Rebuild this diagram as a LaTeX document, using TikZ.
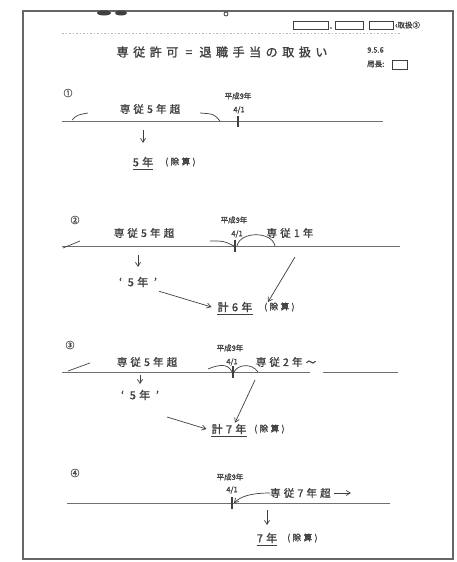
\documentclass[tikz,border=0pt]{standalone}
\usepackage{fontspec}
\newfontfamily\jp{Noto Sans CJK JP}[FakeBold=1.2]
\newfontfamily\jpw{Noto Sans CJK JP}[LetterSpace=30, FakeBold=1.4]
\newfontfamily\jpt{Noto Sans CJK JP}[LetterSpace=38, FakeBold=1.4]
\usetikzlibrary{arrows.meta}
\definecolor{ink}{gray}{0.25}
\tikzset{
 lab/.style={font=\jpw\fontsize{10.5}{12}\selectfont, text=ink, inner sep=0pt},
 res/.style={font=\jpw\fontsize{11}{12}\selectfont, text=ink, inner sep=0pt},
 par/.style={font=\jpw\fontsize{8.5}{10}\selectfont, text=ink, inner sep=0pt},
 sml/.style={font=\jp\fontsize{7.5}{9}\selectfont, text=ink, inner sep=0pt},
 num/.style={font=\jp\fontsize{9}{10}\selectfont, text=ink, inner sep=0pt},
 tl/.style={draw=ink!75, line width=0.8pt},
 tick/.style={draw=ink, line width=2pt},
 arr/.style={draw=ink, line width=0.7pt, -{Straight Barb[length=4pt,width=5pt]}},
 hand/.style={draw=ink, line width=0.7pt},
 uline/.style={draw=ink, line width=1.3pt},
 frame/.style={draw=ink!80, line width=1.2pt},
 smallbox/.style={draw=ink, line width=0.8pt},
}
\begin{document}
\begin{tikzpicture}[x=1pt,y=-1pt]
\useasboundingbox (0,0) rectangle (457,562);
\fill[white] (0,0) rectangle (457,562);
\draw[frame] (23,11) rectangle (453,559);
% scan artefacts at top
\fill[ink] (104,13) ellipse (7 and 2.5);
\fill[ink] (121,13) ellipse (6 and 2.5);
\draw[ink, line width=0.8pt] (226,14) circle (2);
\draw[gray!55, line width=0.6pt, dash pattern=on 1.5pt off 2pt] (62,33) -- (400,33);
% header boxes
\draw[smallbox] (293,21) rectangle (328,29);
\draw[smallbox] (335,21) rectangle (363,29);
\draw[smallbox] (369,21) rectangle (393,29);
\fill[ink] (331,28) circle (0.8);
\node[sml, anchor=west] (ref) at (395,25) {‹取扱③};
% title
\node[font=\jpt\fontsize{12}{14}\selectfont, text=ink, inner sep=0pt] (title) at (222,52) {専従許可 = 退職手当の取扱い};
\node[sml, anchor=west] (date) at (367,50) {9.5.6};
\node[sml, anchor=west] (chief) at (367,64) {局長:};
\draw[smallbox] (392,60) rectangle (407,69);

% ---------- section 1 ----------
\node[num] (n1) at (68,93) {①};
\node[sml] (y1) at (238,96) {平成9年};
\node[sml] (d1) at (239,110) {4/1};
\coordinate (a1) at (62,121); \coordinate (b1) at (383,121);
\draw[tl] (a1) -- (b1);
\draw[tick] (238,116) -- (238,127);
\node[lab] (s1) at (150,109) {専従5年超};
\draw[hand] (72,120) .. controls (77,115) .. (88,113);
\draw[hand] (200,113) .. controls (214,114) .. (220,121);
\node[res] (r1) at (143,162) {5年};
\node[par, anchor=west] (e1) at (165,162) {(除算)};
\coordinate (p1) at (143,130);
\draw[arr] (p1) -- (143,143);
\draw[uline] ([yshift=-2pt]r1.south west) -- ([yshift=-2pt]r1.south east);

% ---------- section 2 ----------
\node[num] (n2) at (75,220) {②};
\node[sml] (y2) at (234,220) {平成9年};
\node[sml] (d2) at (237,234) {4/1};
\coordinate (a2) at (62,246); \coordinate (b2) at (400,246);
\draw[tl] (a2) -- (b2);
\draw[hand] (63,248) -- (80,241);
\draw[tick] (235,240) -- (235,252);
\node[lab] (s2) at (144,233) {専従5年超};
\node[lab] (c2) at (290,233) {専従1年};
\draw[hand] (210,241) .. controls (224,241) .. (234,246);
\draw[hand] (237,246) .. controls (240,231) and (272,231) .. (275,246);
\coordinate (p2) at (138,255);
\draw[arr] (p2) -- (138,267);
\node[res] (q2) at (138,282) {‘ 5年 ’};
\node[res] (t2) at (235,307) {計6年};
\node[par, anchor=west] (e2) at (264,307) {(除算)};
\draw[uline] ([yshift=-2pt]t2.south west) -- ([yshift=-2pt]t2.south east);
\draw[arr] ([xshift=2pt,yshift=-4pt]q2.south east) -- ([xshift=-6pt]t2.west);
\coordinate (f2) at (295,257); \coordinate (g2) at (268,302);
\draw[arr] (f2) -- (g2);

% ---------- section 3 ----------
\node[num] (n3) at (70,345) {③};
\node[sml] (y3) at (230,348) {平成9年};
\node[sml] (d3) at (232,362) {4/1};
\coordinate (a3) at (62,372); \coordinate (b3) at (310,372);
\coordinate (a3b) at (323,372); \coordinate (b3b) at (398,372);
\draw[tl] (a3) -- (b3);
\draw[tl] (a3b) -- (b3b);
\draw[hand] (68,371) -- (90,363);
\draw[tick] (233,366) -- (233,378);
\node[lab] (s3) at (147,362) {専従5年超};
\node[lab] (c3) at (286,362) {専従2年〜};
\draw[hand] (208,369) .. controls (222,363) and (229,365) .. (232,372);
\draw[hand] (234,372) .. controls (238,364) and (252,363) .. (258,372);
\coordinate (p3) at (140,375);
\draw[arr] (p3) -- (140,384);
\node[res] (q3) at (140,395) {‘ 5年 ’};
\node[res] (t3) at (229,429) {計7年};
\node[par, anchor=west] (e3) at (254,429) {(除算)};
\draw[uline] ([yshift=-2pt]t3.south west) -- ([yshift=-2pt]t3.south east);
\coordinate (h3) at (167,417);
\draw[arr] (h3) -- ([xshift=-5pt]t3.west);
\coordinate (f3) at (255,380);
\draw[arr] (f3) -- ([xshift=6pt,yshift=1pt]t3.north);

% ---------- section 4 ----------
\node[num] (n4) at (75,473) {④};
\node[sml] (y4) at (230,477) {平成9年};
\node[sml] (d4) at (232,490) {4/1};
\coordinate (a4) at (67,503); \coordinate (b4) at (390,503);
\draw[tl] (a4) -- (b4);
\draw[tick] (232,497) -- (232,509);
\node[lab, anchor=west] (c4) at (270,493) {専従7年超};
\draw[arr] ([xshift=3pt]c4.east) -- ([xshift=20pt]c4.east);
\draw[arr] (c4.west) .. controls (252,493) and (241,496) .. (234,503);
\coordinate (p4) at (267,510);
\draw[arr] (p4) -- (267,525);
\node[res] (r4) at (267,538) {7年};
\node[par, anchor=west] (e4) at (287,538) {(除算)};
\draw[uline] ([yshift=-2pt]r4.south west) -- ([yshift=-2pt]r4.south east);
\end{tikzpicture}
\end{document}
